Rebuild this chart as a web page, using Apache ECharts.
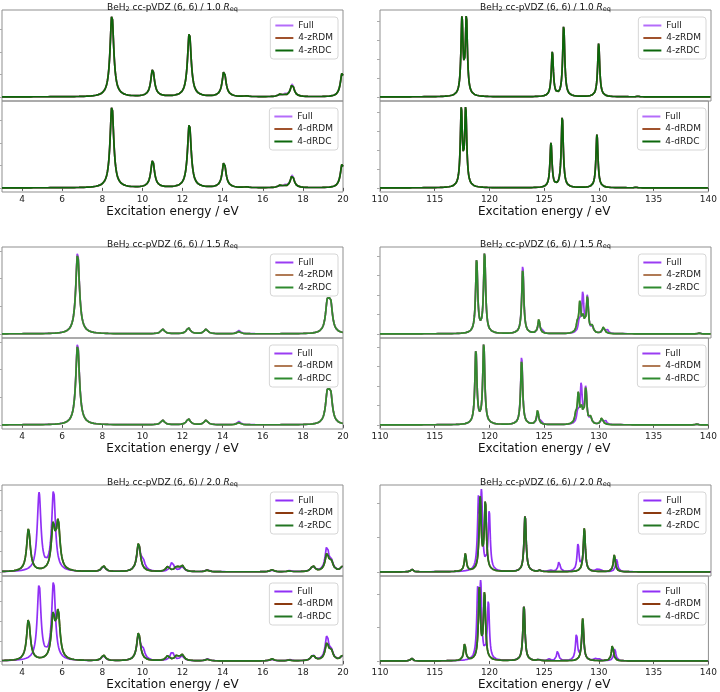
<!DOCTYPE html>
<html>
<head>
<meta charset="utf-8">
<script src="https://cdn.jsdelivr.net/npm/echarts@6/dist/echarts.min.js"></script>
<style>
html,body{margin:0;padding:0;background:#fff;}
#chart{width:720px;height:692px;}
</style>
</head>
<body>
<div id="chart"></div>
<script>
// ---------------- DATA (stick positions [eV] and heights) ----------------
const titlesLabel = ['1.0', '1.5', '2.0'];
const methodsTop = ['Full', '4-zRDM', '4-zRDC'];
const methodsBot = ['Full', '4-dRDM', '4-dRDC'];
const xLabelsValence = [4, 6, 8, 10, 12, 14, 16, 18, 20];
const xLabelsCore = [110, 115, 120, 125, 130, 135, 140];

// 1.0 Req, valence region
const r10ValFull = [[8.48,3.67],[10.51,1.22],[12.34,2.86],[14.07,1.16],[15.18,0.03],[16.82,0.07],[17.12,0.1],[17.47,0.56],[19.96,1.07]];
const r10ValRDC  = [[8.48,3.67],[10.51,1.22],[12.34,2.86],[14.07,1.16],[15.18,0.03],[16.85,0.09],[17.05,0.05],[17.47,0.56],[19.96,1.07]];
const r10ValRDM  = r10ValRDC;
// 1.0 Req, core region
const r10CoreFull = [[117.43,4.0],[117.83,4.08],[125.62,2.35],[126.65,3.78],[129.82,2.83],[133.4,0.03]];
const r10CoreRDC  = [[117.43,4.0],[117.83,4.08],[125.62,2.35],[126.65,3.78],[129.82,2.83],[133.4,0.03]];
const r10CoreRDM  = r10CoreRDC;
// 1.5 Req, valence
const r15ValFull = [[6.77,2.99],[11.01,0.17],[12.29,0.22],[13.17,0.17],[14.81,0.12],[19.22,0.98],[19.38,0.98]];
const r15ValRDC  = [[6.77,2.91],[11.01,0.17],[12.29,0.22],[13.17,0.17],[14.81,0.08],[19.22,0.98],[19.38,0.98]];
const r15ValRDM  = r15ValRDC;
// 1.5 Req, core
const r15CoreFull = [[118.76,3.82],[119.48,4.17],[122.94,3.55],[124.4,0.6],[124.68,0.18],[128.05,0.55],[128.38,2.05],[128.8,1.9],[129.25,0.3],[130.27,0.35],[130.62,0.18],[138.97,0.04]];
const r15CoreRDC  = [[118.76,3.82],[119.48,4.17],[122.94,3.34],[124.4,0.74],[127.88,0.4],[128.12,1.55],[128.42,0.7],[128.8,1.85],[129.24,0.33],[130.27,0.42],[138.97,0.04]];
const r15CoreRDM  = r15CoreRDC;
// 2.0 Req, valence
const r20ValFull = [[4.85,3.8],[5.57,3.95],[8.06,0.25],[9.81,1.3],[10.04,0.42],[11.48,0.46],[11.98,0.24],[13.24,0.1],[16.46,0.08],[17.35,0.06],[18.5,0.27],[19.2,1.2],[19.42,0.4],[19.97,0.22]];
const r20ValRDC  = [[4.32,2.08],[5.55,2.1],[5.8,2.26],[8.06,0.29],[9.81,1.42],[11.26,0.24],[11.71,0.24],[11.98,0.3],[13.24,0.08],[16.46,0.1],[17.3,0.04],[18.5,0.29],[19.2,0.84],[19.42,0.41],[19.97,0.24]];
const r20ValRDM  = r20ValRDC;
// 2.0 Req, core
const r20CoreFull = [[112.88,0.08],[118.93,1.95],[119.2,2.1],[119.9,1.75],[123.15,1.67],[124.5,0.04],[125.41,0.06],[126.23,0.31],[127.95,0.8],[128.52,1.1],[129.6,0.06],[129.95,0.08],[131.45,0.38]];
const r20CoreRDC  = [[112.88,0.08],[117.74,0.52],[119.08,2.1],[119.55,2.0],[123.15,1.67],[124.5,0.04],[128.52,1.28],[131.24,0.5]];
const r20CoreRDM  = r20CoreRDC;

// ---------------- BUILD ----------------
const GAMMA = 0.11; // Lorentzian half width (eV)
function broaden(peaks, xmin, xmax, step) {
  const g2 = GAMMA * GAMMA, out = [];
  const n = Math.round((xmax - xmin) / step);
  for (let i = 0; i <= n; i++) {
    const x = xmin + i * step;
    let y = 0;
    for (const [p, h] of peaks) { const d = x - p; y += h * g2 / (d * d + g2); }
    out.push([+x.toFixed(3), y]);
  }
  return out;
}

const panels = [
  [[r10ValFull, r10ValRDM, r10ValRDC], [r10CoreFull, r10CoreRDM, r10CoreRDC]],
  [[r15ValFull, r15ValRDM, r15ValRDC], [r15CoreFull, r15CoreRDM, r15CoreRDC]],
  [[r20ValFull, r20ValRDM, r20ValRDC], [r20CoreFull, r20CoreRDM, r20CoreRDC]]
];
const rowColors = [
  ['#b46cfa', '#a0522d', '#0b660b'],
  ['#9a3cf2', '#b07a55', '#2f8a2f'],
  ['#9030f5', '#8b3a10', '#227522']
];

const FONT = 'DejaVu Sans';
const rowTops = [10, 247, 485];
const subH = 91;
const colLeft = [2, 380];
const colW = [341, 331];
const W = 720;

const grid = [], xAxis = [], yAxis = [], series = [], legend = [], title = [];
const rich = { sub: { fontSize: 6.5, lineHeight: 7, verticalAlign: 'bottom', fontFamily: FONT } ,
               it: { fontStyle: 'italic', fontSize: 9, fontFamily: FONT } };

for (let r = 0; r < 3; r++) {
  for (let c = 0; c < 2; c++) {
    const isVal = c === 0;
    const xmin = isVal ? 3 : 110, xmax = isVal ? 20 : 140, step = 0.01;
    const labels = isVal ? xLabelsValence : xLabelsCore;
    title.push({
      text: 'BeH{sub|2} cc-pVDZ (6, 6) / ' + titlesLabel[r] + ' {it|R}{sub|eq}',
      left: colLeft[c] + colW[c] / 2, top: rowTops[r] - 8, textAlign: 'center', padding: 0,
      textStyle: { fontSize: 9, fontWeight: 'normal', color: '#111', fontFamily: FONT, lineHeight: 11, rich }
    });
    const curves = panels[r][c].map(p => broaden(p, xmin, xmax, step));
    let M = 0;
    curves.forEach(cv => cv.forEach(pt => { if (pt[1] > M) M = pt[1]; }));
    const yTicks = [];
    for (let t = 0; t <= 1.05 * M; t++) yTicks.push(t);
    for (let s = 0; s < 2; s++) {
      const k = grid.length;
      const top = rowTops[r] + s * subH;
      const isBottom = s === 1;
      grid.push({ left: colLeft[c], top: top, width: colW[c], height: subH, show: true,
                  borderColor: '#8f8f8f', borderWidth: 1, backgroundColor: 'transparent' });
      xAxis.push({
        type: 'value', gridIndex: k, min: xmin, max: xmax,
        axisLine: { show: false }, splitLine: { show: false },
        axisTick: { show: isBottom, customValues: labels, length: 3, lineStyle: { color: '#555' } },
        axisLabel: { show: isBottom, customValues: labels, fontSize: 9, margin: 3, color: '#222', fontFamily: FONT },
        name: isBottom ? 'Excitation energy / eV' : '', nameLocation: 'middle', nameGap: 14,
        nameTextStyle: { fontSize: 12, color: '#111', fontFamily: FONT }
      });
      yAxis.push({
        type: 'value', gridIndex: k, min: -0.05 * M, max: 1.05 * M,
        axisLine: { show: false }, splitLine: { show: false },
        axisLabel: { show: false },
        axisTick: { show: true, customValues: yTicks, length: 3, lineStyle: { color: '#aaa' } }
      });
      const names = isBottom ? methodsBot : methodsTop;
      const legendNames = [];
      for (let m = 0; m < 3; m++) {
        const nm = names[m] + '#' + k;
        legendNames.push(nm);
        series.push({
          type: 'line', name: nm, xAxisIndex: k, yAxisIndex: k, data: curves[m],
          showSymbol: false, symbol: 'none', silent: true, clip: true,
          lineStyle: { width: 1.7, color: rowColors[r][m] },
          itemStyle: { color: rowColors[r][m] }, z: 2 + m
        });
      }
      legend.push({
        data: legendNames, orient: 'vertical', align: 'left',
        right: W - (colLeft[c] + colW[c]) + 5, top: top + 7,
        icon: 'rect', itemWidth: 18, itemHeight: 2, itemGap: 3.5,
        selectedMode: false,
        formatter: n => n.split('#')[0],
        textStyle: { fontSize: 9, color: '#222', fontFamily: FONT },
        backgroundColor: 'rgba(255,255,255,0.85)', borderColor: '#d6d6d6', borderWidth: 1,
        borderRadius: 3, padding: [4, 5, 4, 5]
      });
    }
  }
}

const chart = echarts.init(document.getElementById('chart'), null, { renderer: 'canvas' });
chart.setOption({
  animation: false,
  backgroundColor: '#fff',
  textStyle: { fontFamily: FONT },
  title, grid, xAxis, yAxis, series, legend
});
</script>
</body>
</html>
